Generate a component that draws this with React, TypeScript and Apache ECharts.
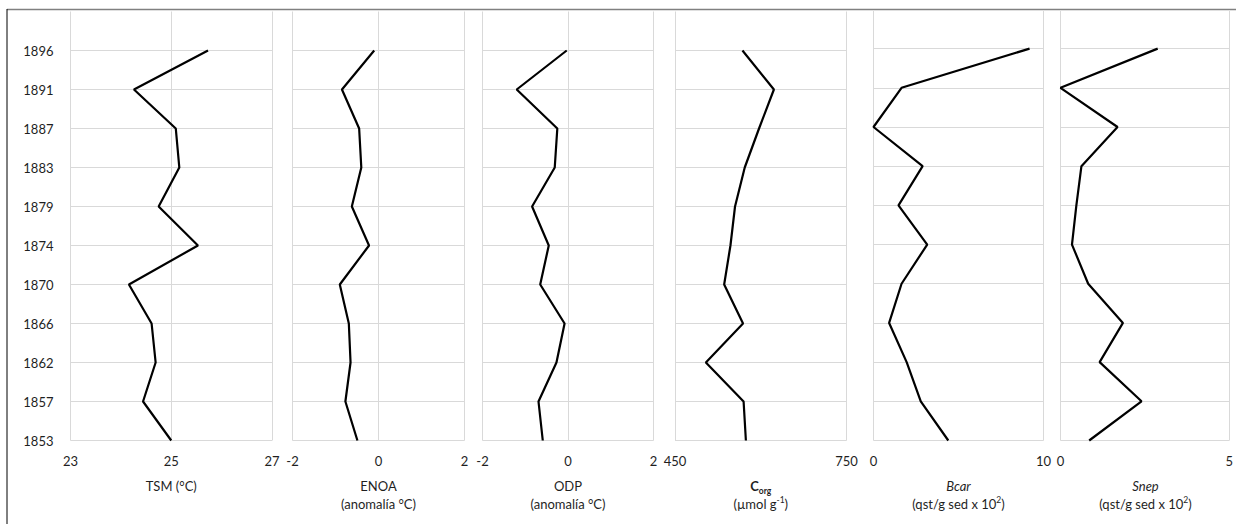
import React, { useEffect, useRef } from "react";
import * as echarts from "echarts";

const years = ["1853", "1857", "1862", "1866", "1870", "1874", "1879", "1883", "1887", "1891", "1896"];
const tsm = [25.0, 24.44, 24.69, 24.61, 24.16, 25.53, 24.75, 25.16, 25.09, 24.26, 25.73];
const enoa = [-0.49, -0.77, -0.65, -0.69, -0.9, -0.22, -0.62, -0.4, -0.45, -0.85, -0.1];
const odp = [-0.59, -0.69, -0.27, -0.08, -0.65, -0.45, -0.84, -0.31, -0.25, -1.2, -0.03];
const corg = [574, 570, 504, 569, 536, 547, 555, 572, 597, 623, 568];
const bcar = [4.4, 2.78, 1.95, 0.92, 1.65, 3.16, 1.47, 2.89, 0.0, 1.65, 9.18];
const snep = [0.85, 2.4, 1.16, 1.85, 0.82, 0.34, 0.47, 0.62, 1.69, 0.0, 2.88];

const FONT = "Lato, 'Open Sans', sans-serif";
const TXT = "#1f1f1f";
const GRID = "#d9d9d9";

type Panel = {
  values: number[];
  offset: number;
  min: number;
  max: number;
  interval: number;
  left: number;
  right: number;
  top: number;
  ymax: number;
  title: string;
};

const panels: Panel[] = [
  { values: tsm, offset: 23, min: 0, max: 4, interval: 2, left: 70.5, right: 272, top: 11.5, ymax: 11, title: "TSM (°C)" },
  { values: enoa, offset: 0, min: -2, max: 2, interval: 2, left: 292.5, right: 464.5, top: 11.5, ymax: 11, title: "ENOA\n(anomalía °C)" },
  { values: odp, offset: 0, min: -2, max: 2, interval: 2, left: 482.5, right: 653.5, top: 11.5, ymax: 11, title: "ODP\n(anomalía °C)" },
  { values: corg, offset: 450, min: 0, max: 300, interval: 300, left: 675, right: 846.5, top: 11.5, ymax: 11, title: "{b|C}{bsub|org}\n(µmol g{sup|-1})" },
  { values: bcar, offset: 0, min: 0, max: 10, interval: 10, left: 873.5, right: 1043.5, top: 11, ymax: 10.96, title: "{i|Bcar}\n(qst/g sed x 10{sup|2})" },
  { values: snep, offset: 0, min: 0, max: 5, interval: 5, left: 1060.5, right: 1230.5, top: 11, ymax: 10.96, title: "{i|Snep}\n(qst/g sed x 10{sup|2})" },
];

const BOTTOM = 440.5;
const W = 1236;
const H = 524;

export default function App() {
  const ref = useRef<HTMLDivElement>(null);
  useEffect(() => {
    if (!ref.current) return;
    const chart = echarts.init(ref.current, undefined, { renderer: "svg" });

    const grid = panels.map((p) => ({
      left: p.left,
      top: p.top,
      width: p.right - p.left,
      height: BOTTOM - p.top,
      containLabel: false,
    }));

    const xAxis = panels.map((p, i) => ({
      type: "value",
      gridIndex: i,
      min: p.min,
      max: p.max,
      interval: p.interval,
      axisLine: { show: false },
      axisTick: { show: false },
      splitLine: { show: true, lineStyle: { color: GRID, width: 1 } },
      axisLabel: {
        show: true,
        margin: 14,
        fontFamily: FONT,
        fontSize: 13,
        color: TXT,
        formatter: (v: number) => String(Math.round((v + p.offset) * 100) / 100),
      },
    }));

    const yAxis = panels.map((p, i) => ({
      type: "value",
      gridIndex: i,
      min: 0,
      max: p.ymax,
      interval: 1,
      axisLine: { show: false },
      axisTick: { show: false },
      splitLine: { show: true, showMaxLine: false, lineStyle: { color: GRID, width: 1 } },
      axisLabel: {
        show: i === 0,
        showMaxLabel: false,
        margin: 17,
        fontFamily: FONT,
        fontSize: 13,
        color: TXT,
        formatter: (v: number) => (Number.isInteger(v) && years[v] ? years[v] : ""),
      },
    }));

    const series = panels.map((p, i) => ({
      type: "line",
      xAxisIndex: i,
      yAxisIndex: i,
      symbol: "none",
      clip: false,
      lineStyle: { color: "#000000", width: 2.2 },
      data: p.values.map((v, k) => [v - p.offset, k]),
    }));

    const rich = {
      b: { fontWeight: "bold", fontSize: 13, lineHeight: 18, fill: TXT, fontFamily: FONT },
      bsub: { fontWeight: "bold", fontSize: 8.5, lineHeight: 11, verticalAlign: "bottom", fill: TXT, fontFamily: FONT },
      sup: { fontSize: 8.5, lineHeight: 12, verticalAlign: "top", fill: TXT, fontFamily: FONT },
      i: { fontStyle: "italic", fontSize: 13, lineHeight: 18, fill: TXT, fontFamily: FONT },
    };

    const titles = panels.map((p) => ({
      type: "text",
      x: (p.left + p.right) / 2,
      y: 477,
      silent: true,
      style: {
        text: p.title,
        rich,
        fill: TXT,
        fontFamily: FONT,
        fontSize: 13,
        lineHeight: 18,
        align: "center",
        verticalAlign: "top",
      },
    }));

    chart.setOption({
      animation: false,
      backgroundColor: "#ffffff",
      grid,
      xAxis,
      yAxis,
      series,
      graphic: [
        ...titles,
        { type: "line", silent: true, shape: { x1: 7, y1: 9.5, x2: W, y2: 9.5 }, style: { stroke: "#808080", lineWidth: 1.5 } },
        { type: "line", silent: true, shape: { x1: 7, y1: 9, x2: 7, y2: H }, style: { stroke: "#000000", lineWidth: 1 } },
      ],
    });

    return () => chart.dispose();
  }, []);

  return <div ref={ref} style={{ position: "absolute", left: 0, top: 0, width: W, height: H }} />;
}
